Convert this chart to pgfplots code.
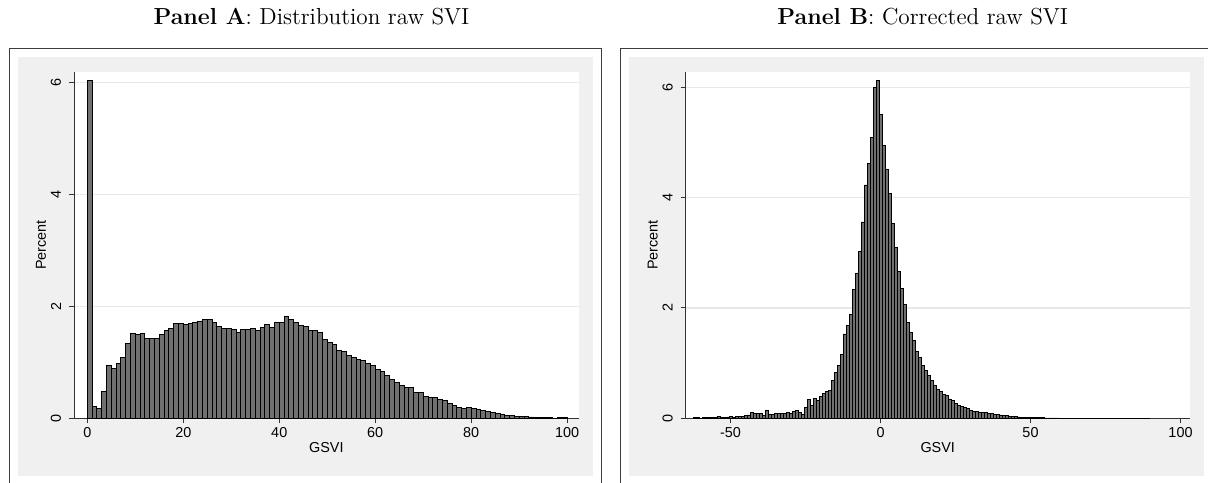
\documentclass[border=0pt]{standalone}
\usepackage{pgfplots}
\pgfplotsset{compat=1.18}
\usepackage{pgfplotstable}
\usepackage{fontspec}
\newfontfamily\arial{Liberation Sans}
\definecolor{bgray}{RGB}{240,240,240}
\definecolor{barfill}{RGB}{112,112,112}
\definecolor{gridc}{RGB}{232,232,232}
\definecolor{framec}{RGB}{60,60,60}

\pgfplotstableread{
x y
0 6.04
1 0.21
2 0.17
3 0.48
4 0.94
5 0.89
6 0.98
7 1.08
8 1.33
9 1.52
10 1.50
11 1.52
12 1.43
13 1.42
14 1.42
15 1.50
16 1.57
17 1.61
18 1.70
19 1.69
20 1.67
21 1.69
22 1.71
23 1.73
24 1.76
25 1.76
26 1.71
27 1.64
28 1.60
29 1.60
30 1.59
31 1.54
32 1.58
33 1.59
34 1.61
35 1.57
36 1.63
37 1.68
38 1.62
39 1.71
40 1.72
41 1.82
42 1.76
43 1.71
44 1.66
45 1.65
46 1.57
47 1.57
48 1.54
49 1.41
50 1.35
51 1.32
52 1.22
53 1.19
54 1.13
55 1.09
56 1.06
57 1.04
58 0.98
59 0.95
60 0.88
61 0.83
62 0.76
63 0.69
64 0.64
65 0.58
66 0.55
67 0.55
68 0.46
69 0.46
70 0.39
71 0.38
72 0.38
73 0.34
74 0.32
75 0.27
76 0.23
77 0.20
78 0.18
79 0.19
80 0.18
81 0.16
82 0.14
83 0.125
84 0.10
85 0.09
86 0.06
87 0.054
88 0.054
89 0.04
90 0.03
91 0.036
92 0.024
93 0.018
94 0.018
95 0.012
96 0.012
97 0.004
98 0.012
99 0.018
100 0.018
}\dataA

\pgfplotstableread{
x y
-62.4 0.01
-61.4 0.01
-60.4 0.005
-59.4 0.01
-58.4 0.02
-57.4 0.015
-56.4 0.01
-55.4 0.01
-54.4 0.03
-53.4 0.02
-52.4 0.015
-51.4 0.025
-50.4 0.03
-49.4 0.02
-48.4 0.04
-47.4 0.03
-46.4 0.04
-45.4 0.05
-44.4 0.06
-43.4 0.11
-42.4 0.08
-41.4 0.08
-40.4 0.09
-39.4 0.05
-38.4 0.14
-37.4 0.07
-36.4 0.07
-35.4 0.09
-34.4 0.08
-33.4 0.08
-32.4 0.085
-31.4 0.10
-30.4 0.09
-29.4 0.13
-28.4 0.145
-27.4 0.11
-26.4 0.07
-25.4 0.19
-24.4 0.34
-23.4 0.23
-22.4 0.36
-21.4 0.33
-20.4 0.40
-19.4 0.45
-18.4 0.48
-17.4 0.50
-16.4 0.68
-15.4 0.83
-14.4 0.95
-13.4 1.16
-12.4 1.53
-11.4 1.69
-10.4 1.89
-9.4 2.33
-8.4 2.62
-7.4 3.02
-6.4 3.56
-5.4 4.23
-4.4 4.62
-3.4 5.09
-2.4 6.00
-1.4 6.12
-0.4 5.51
0.6 4.94
1.6 4.51
2.6 4.08
3.6 3.53
4.6 3.09
5.6 2.67
6.6 2.35
7.6 2.07
8.6 1.73
9.6 1.56
10.6 1.41
11.6 1.22
12.6 1.11
13.6 0.95
14.6 0.87
15.6 0.77
16.6 0.68
17.6 0.59
18.6 0.53
19.6 0.48
20.6 0.43
21.6 0.41
22.6 0.35
23.6 0.32
24.6 0.27
25.6 0.24
26.6 0.22
27.6 0.19
28.6 0.175
29.6 0.15
30.6 0.13
31.6 0.12
32.6 0.11
33.6 0.11
34.6 0.10
35.6 0.09
36.6 0.08
37.6 0.07
38.6 0.065
39.6 0.06
40.6 0.055
41.6 0.05
42.6 0.04
43.6 0.035
44.6 0.03
45.6 0.025
46.6 0.02
47.6 0.02
48.6 0.015
49.6 0.015
50.6 0.012
51.6 0.01
52.6 0.008
53.6 0.008
54.6 0.007
55.6 0.007
56.6 0.006
57.6 0.006
58.6 0.006
59.6 0.005
60.6 0.005
61.6 0.005
62.6 0.005
63.6 0.005
64.6 0.004
65.6 0.004
66.6 0.004
67.6 0.004
68.6 0.004
69.6 0.004
70.6 0.004
71.6 0.004
72.6 0
73.6 0
74.6 0.004
75.6 0.004
76.6 0.004
77.6 0.004
78.6 0.004
79.6 0.004
80.6 0.004
81.6 0.004
82.6 0
83.6 0
84.6 0.004
85.6 0.004
86.6 0.004
87.6 0.004
88.6 0.004
89.6 0.004
}\dataB

\pgfplotsset{stata/.style={
  scale only axis, height=173.3pt,
  axis background/.style={fill=white},
  axis x line*=bottom, axis y line*=left,
  axis line style={black!80, line width=0.5pt},
  tick align=outside, major tick length=2.5pt,
  every tick/.style={black!80, line width=0.5pt},
  ymin=0, ymajorgrids, grid style={gridc, line width=0.6pt},
  ytick={0,2,4,6}, yticklabels={0,2,4,6},
  tick label style={font=\arial\fontsize{7.2}{8.6}\selectfont},
  label style={font=\arial\fontsize{7.2}{8.6}\selectfont},
  xticklabel style={anchor=center, yshift=-4.85pt},
  yticklabel style={xshift=-6.5pt, rotate=90, anchor=center},
  xlabel=GSVI, ylabel=Percent,
  xlabel style={at={(axis description cs:0.5,-0.0857)}, anchor=center},
  ylabel style={at={(axis description cs:-0.0654,0.5)}, anchor=center},
  anchor=south west,
}}

\begin{document}
\begin{tikzpicture}[x=1pt,y=1pt]
\useasboundingbox (0,0) rectangle (604,241);
\fill[white] (0,0) rectangle (604,241);
% Panel A background and frame
\fill[bgray] (9,3) rectangle (296.35,212.65);
\draw[framec, line width=0.6pt] (4.65,-5) rectangle (300.65,216.85);
% Panel B background and frame
\fill[bgray] (314.65,3) rectangle (602,212.65);
\draw[framec, line width=0.6pt] (310.35,-5) rectangle (606.35,216.85);
% Titles
\node[anchor=base, font=\fontsize{11.6}{13.6}\selectfont] at (155.75,228.5) {\textbf{Panel A}: Distribution raw SVI};
\node[anchor=base, font=\fontsize{11.6}{13.6}\selectfont] at (461.4,228.5) {\textbf{Panel B}: Corrected raw SVI};

\begin{axis}[stata, at={(37pt,31.85pt)}, width=252.35pt,
  xmin=-2.77, xmax=102.4, ymax=6.197,
  xtick={0,20,40,60,80,100}, xticklabels={0,20,40,60,80,100}]
\addplot[ybar interval, fill=barfill, draw=black, line width=0.45pt] table[x=x,y=y] {\dataA};
\end{axis}

\begin{axis}[stata, at={(342.85pt,31.85pt)}, width=252pt,
  xmin=-64.93, xmax=103.07, ymax=6.283,
  xtick={-50,0,50,100}, xticklabels={-50,0,50,100}]
\addplot[ybar interval, fill=barfill, draw=black, line width=0.4pt] table[x=x,y=y] {\dataB};
\end{axis}
\end{tikzpicture}
\end{document}
